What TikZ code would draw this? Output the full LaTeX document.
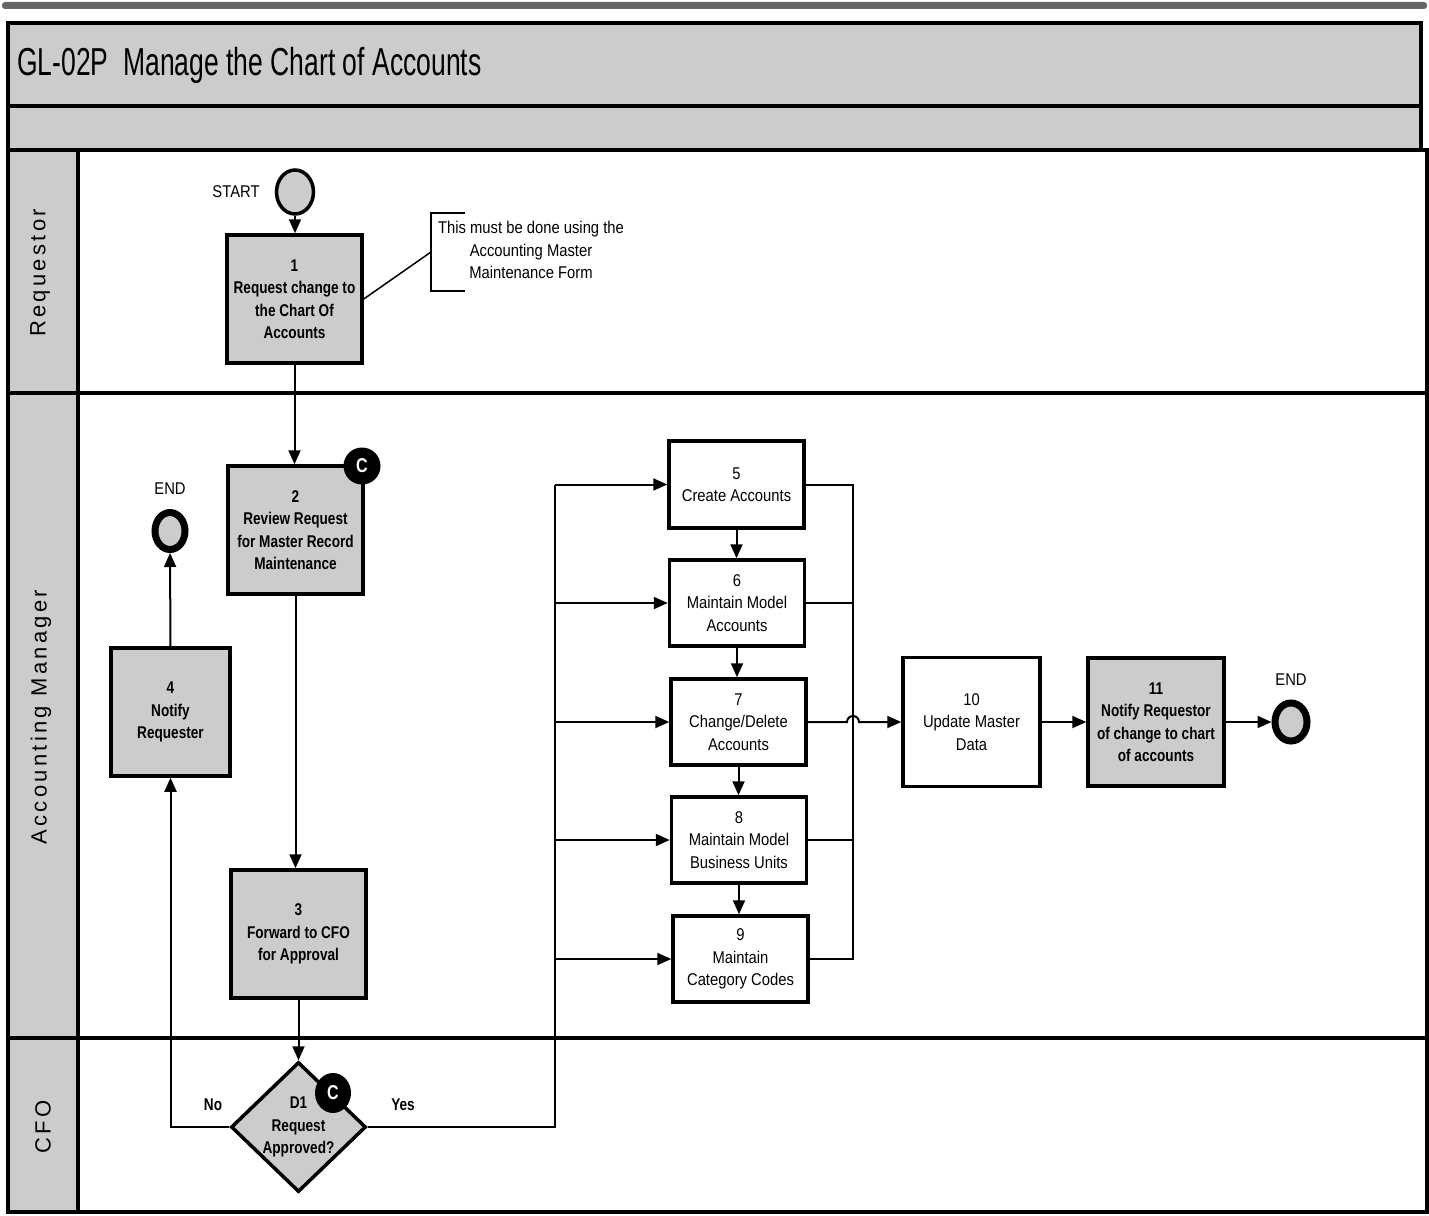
\documentclass[tikz,border=0pt]{standalone}
\usepackage{fontspec}
\setmainfont{Liberation Sans}[FakeStretch=0.87, BoldFeatures={FakeStretch=0.8}]
\newfontfamily\titlefont{Liberation Sans}[FakeStretch=0.68]
\newfontfamily\lanefont{Liberation Sans}[LetterSpace=15]
\usetikzlibrary{arrows.meta,shapes.geometric,calc}

\definecolor{bandgray}{gray}{0.80}
\definecolor{boxgray}{gray}{0.80}
\newcommand{\boxtxt}{\fontsize{17}{22.5}\selectfont}

\tikzset{
  frameline/.style={line width=3.5pt},
  proc/.style={draw, line width=3.5pt, minimum width=135pt, inner sep=0pt,
    align=center, font=\boxtxt, fill=white},
  graybox/.style={proc, fill=boxgray, font=\boxtxt\bfseries},
  wire/.style={line width=2pt},
  arr/.style={line width=2pt, -{Triangle[length=14pt,width=12pt]}},
  badge/.style={circle, fill=black, minimum size=37pt, inner sep=0pt,
    text=white, font=\fontsize{20}{22}\selectfont\bfseries},
  terminal/.style={ellipse, draw, fill=boxgray, inner sep=0pt},
  plain/.style={font=\boxtxt, inner sep=1pt},
  lanelabel/.style={rotate=90, font=\lanefont\fontsize{22}{24}\selectfont}
}

\begin{document}
\begin{tikzpicture}[x=1pt, y=-1pt]
\useasboundingbox (0,0) rectangle (1429,1215);

% scanner strip and frame
\fill[black!60, rounded corners=3pt] (2,2) rectangle (1427,9);
\draw[frameline, fill=bandgray] (8,23) rectangle (1421,106);
\draw[frameline, fill=bandgray] (8,106) rectangle (1421,150);
\draw[frameline] (8,150) rectangle (1427,1212);
\draw[frameline, fill=bandgray] (8,150) rectangle (78,1212);
\draw[frameline] (8,393) -- (1427,393);
\draw[frameline] (8,1038) -- (1427,1038);

\node[anchor=west, font=\titlefont\fontsize{39}{40}\selectfont, inner sep=0pt]
  (title) at (17,65) {GL-02P\ \ Manage the Chart of Accounts};

% swimlane labels
\node[lanelabel] (lreq) at (40,273) {Requestor};
\node[lanelabel] (lam) at (41,717) {Accounting Manager};
\node[lanelabel] (lcfo) at (43,1127) {CFO};

% process steps
\node[terminal, line width=3.5pt, minimum width=37pt, minimum height=44pt] (start) at (295,192) {};
\node[plain] (startlbl) at (236,192) {START};

\node[graybox, minimum height=128pt] (b1) at (294.5,299)
  {1\\Request change to\\the Chart Of\\Accounts};
\node[graybox, minimum height=128pt] (b2) at (295.5,530)
  {2\\Review Request\\for Master Record\\Maintenance};
\node[graybox, minimum width=119pt, minimum height=128pt] (b4) at (170.5,712)
  {4\\Notify\\Requester};
\node[graybox, minimum height=128pt] (b3) at (298.5,934)
  {3\\Forward to CFO\\for Approval};

\node[terminal, line width=7pt, minimum width=30pt, minimum height=37pt] (end1) at (170,531) {};
\node[plain] (end1lbl) at (170,489) {END};

\node[diamond, draw, line width=3.5pt, fill=boxgray, minimum width=135pt,
  minimum height=130pt, inner sep=0pt] (d1) at (298.5,1127) {};
\node[font=\boxtxt\bfseries, align=center, inner sep=0pt] (d1t) at (298.5,1127)
  {D1\\Request\\Approved?};

\node[proc, minimum height=87pt] (b5) at (736.5,484.5) {5\\Create Accounts};
\node[proc, minimum height=86pt] (b6) at (737,603) {6\\Maintain Model\\Accounts};
\node[proc, minimum height=86pt] (b7) at (738.5,722) {7\\Change/Delete\\Accounts};
\node[proc, minimum height=86pt] (b8) at (739,840) {8\\Maintain Model\\Business Units};
\node[proc, minimum height=86pt] (b9) at (740.5,959) {9\\Maintain\\Category Codes};

\node[proc, minimum width=137pt, minimum height=129pt] (b10) at (971.5,722)
  {10\\Update Master\\Data};
\node[graybox, minimum width=136pt, minimum height=128pt] (b11) at (1156,722)
  {11\\Notify Requestor\\of change to chart\\of accounts};
\node[terminal, line width=7pt, minimum width=32pt, minimum height=38pt] (end2) at (1291,722) {};
\node[plain] (end2lbl) at (1291,680) {END};

% annotation
\coordinate (notel) at (431,252);
\draw[line width=1.5pt] (465,213) -- (431,213) -- (431,291) -- (465,291);
\draw[line width=1.5pt] (b1.east) -- (notel);
\node[font=\boxtxt, align=center, inner sep=0pt] (note) at (531,250)
  {This must be done using the\\Accounting Master\\Maintenance Form};

% flow
\draw[arr] (start.south) -- (start.south |- b1.north);
\draw[arr] (b1.south) -- (b1.south |- b2.north);
\draw[arr] (b2.south) -- (b2.south |- b3.north);
\draw[arr] (b3.south) -- (d1.north);
\draw[arr] (b4.north) -- (end1.south);

% decision: No branch
\draw[arr] (d1.west) -- (d1.west -| b4.south) -- (b4.south);
\node[plain, font=\boxtxt\bfseries] (nolbl) at (213,1105) {No};

% decision: Yes branch fans out to steps 5-9
\coordinate (lbus) at (555,0);
\draw[wire] (d1.east) -- (d1.east -| lbus) -- (lbus |- b5.west);
\foreach \b in {b5,b6,b7,b8,b9}
  \draw[arr] (lbus |- \b.west) -- (\b.west);
\node[plain, font=\boxtxt\bfseries] (yeslbl) at (403,1105) {Yes};

% chain 5 -> 9
\draw[arr] (b5.south) -- (b5.south |- b6.north);
\draw[arr] (b6.south) -- (b6.south |- b7.north);
\draw[arr] (b7.south) -- (b7.south |- b8.north);
\draw[arr] (b8.south) -- (b8.south |- b9.north);

% collector on the right
\coordinate (rbus) at (853,0);
\draw[wire] (b5.east) -- (b5.east -| rbus) -- (b9.east -| rbus) -- (b9.east);
\draw[wire] (b6.east) -- (b6.east -| rbus);
\draw[wire] (b8.east) -- (b8.east -| rbus);
\draw[arr] (b7.east) -- ($(b7.east -| rbus)+(-6,0)$)
  arc[start angle=180, end angle=360, radius=6] -- (b10.west);

\draw[arr] (b10.east) -- (b11.west);
\draw[arr] (b11.east) -- (end2.west);

% control badges
\node[badge] (c2) at (362,466) {C};
\node[badge, minimum width=36pt, minimum height=40pt, ellipse] (cd1) at (333,1093) {C};
\end{tikzpicture}
\end{document}
